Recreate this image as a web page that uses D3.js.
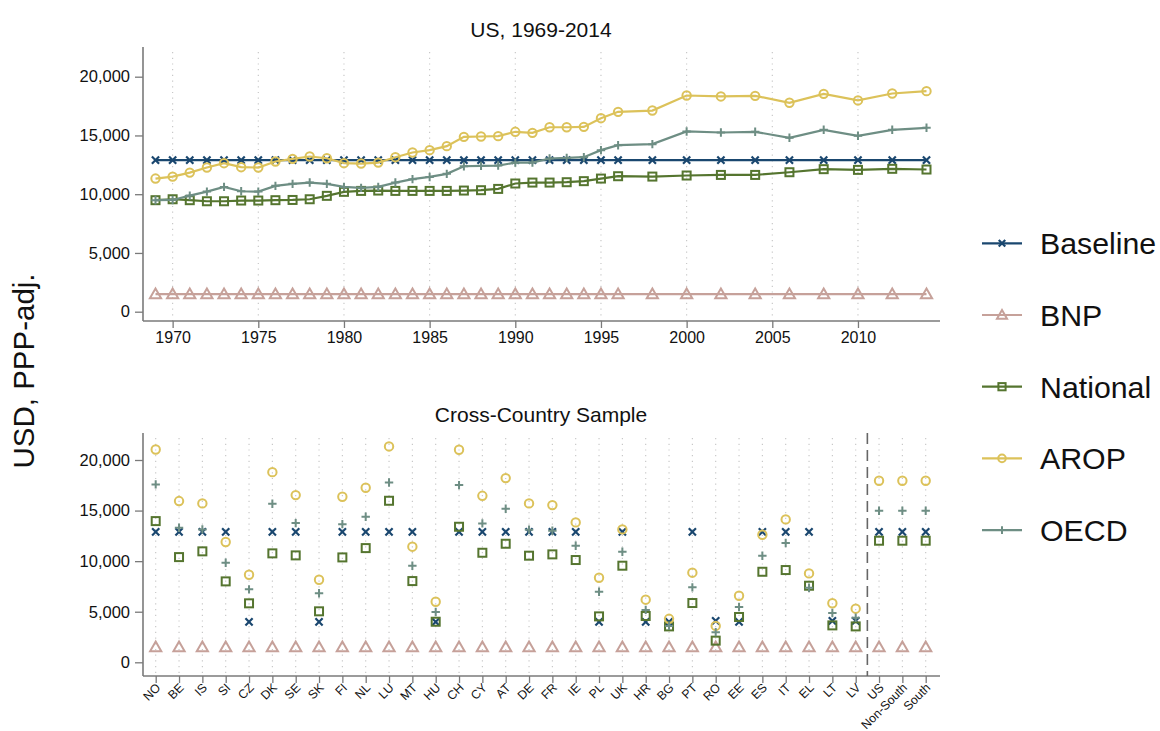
<!DOCTYPE html>
<html><head><meta charset="utf-8">
<script src="https://cdn.jsdelivr.net/npm/d3@7"></script>
<style>
body{margin:0;background:#fff;}
svg{display:block;font-family:"Liberation Sans",Arial,sans-serif;}
</style></head>
<body><svg id="c" width="1160" height="731"></svg>
<script>
// ---------- DATA ----------
const years = [1969,1970,1971,1972,1973,1974,1975,1976,1977,1978,1979,1980,1981,1982,1983,1984,1985,1986,1987,1988,1989,1990,1991,1992,1993,1994,1995,1996,1998,2000,2002,2004,2006,2008,2010,2012,2014];
const usBaseline = [12900,12900,12900,12900,12900,12900,12900,12900,12900,12900,12900,12900,12900,12900,12900,12900,12900,12900,12900,12900,12900,12900,12900,12900,12900,12900,12900,12900,12900,12900,12900,12900,12900,12900,12900,12900,12900];
const usBNP = [1500,1500,1500,1500,1500,1500,1500,1500,1500,1500,1500,1500,1500,1500,1500,1500,1500,1500,1500,1500,1500,1500,1500,1500,1500,1500,1500,1500,1500,1500,1500,1500,1500,1500,1500,1500,1500];
const usNational = [9490,9570,9490,9400,9400,9460,9460,9490,9510,9570,9860,10200,10280,10310,10280,10280,10280,10280,10310,10340,10450,10910,10990,10990,11020,11110,11330,11530,11500,11590,11640,11640,11870,12130,12070,12160,12100];
const usAROP = [11330,11500,11840,12270,12640,12300,12270,12780,13010,13210,13060,12640,12610,12690,13150,13550,13750,14090,14880,14910,14940,15310,15220,15700,15700,15730,16470,17010,17120,18400,18320,18370,17780,18540,17980,18570,18770];
const usOECD = [9490,9510,9880,10220,10620,10250,10220,10710,10880,10990,10880,10620,10540,10620,10990,11280,11470,11730,12380,12410,12440,12690,12690,13040,13090,13150,13750,14170,14260,15340,15250,15310,14800,15480,14970,15480,15650];
const topTicksX = [1970,1975,1980,1985,1990,1995,2000,2005,2010];
const ticksY = [0,5000,10000,15000,20000];

const countries = ["NO","BE","IS","SI","CZ","DK","SE","SK","FI","NL","LU","MT","HU","CH","CY","AT","DE","FR","IE","PL","UK","HR","BG","PT","RO","EE","ES","IT","EL","LT","LV","US","Non-South","South"];
const cBaseline = [12900,12900,12900,12900,4000,12900,12900,4000,12900,12900,12900,12900,4000,12900,12900,12900,12900,12900,12900,4000,12900,4000,4000,12900,4100,4000,12900,12900,12900,4100,4100,12900,12900,12900];
const cBNP = [1500,1500,1500,1500,1500,1500,1500,1500,1500,1500,1500,1500,1500,1500,1500,1500,1500,1500,1500,1500,1500,1500,1500,1500,1500,1500,1500,1500,1500,1500,1500,1500,1500,1500];
const cNational = [13960,10400,10970,8000,5830,10770,10570,5040,10370,11290,15970,8030,4010,13400,10830,11720,10540,10670,10110,4540,9550,4580,3550,5860,2140,4480,8950,9120,7570,3650,3550,12020,12020,12020];
const cAROP = [21040,15940,15710,11890,8660,18800,16530,8160,16370,17260,21340,11430,5990,21010,16460,18210,15710,15540,13830,8360,13140,6190,4300,8860,3600,6580,12610,14130,8790,5840,5300,17950,17950,17950];
const cOECD = [17590,13300,13140,9840,7210,15670,13760,6820,13660,14390,17780,9550,4970,17520,13730,15180,13100,13000,11520,6980,10930,5180,3600,7410,2980,5460,10540,11790,7370,4870,4410,14980,14980,14980];

const seriesNames = ["Baseline","BNP","National","AROP","OECD"];
const seriesColors = ["#1a476f","#c6a19a","#55752f","#dcc25a","#6e8e84"];
const seriesShapes = ["x","triangle","square","circle","plus"];

// ---------- DRAW ----------
const svg = d3.select("#c");
const axisColor = "#7a7a7a";
const gridColor = "#c4c4c4";

function marker(g, shape, x, y, color, s) {
  s = s || 1;
  if (shape === "x") {
    const r = 3.6*s;
    g.append("path").attr("d",`M${x-r},${y-r}L${x+r},${y+r}M${x-r},${y+r}L${x+r},${y-r}`)
      .attr("stroke",color).attr("stroke-width",2.2).attr("fill","none");
  } else if (shape === "plus") {
    const r = 4.2*s;
    g.append("path").attr("d",`M${x-r},${y}L${x+r},${y}M${x},${y-r}L${x},${y+r}`)
      .attr("stroke",color).attr("stroke-width",2).attr("fill","none");
  } else if (shape === "square") {
    const r = 4*s;
    g.append("rect").attr("x",x-r).attr("y",y-r).attr("width",2*r).attr("height",2*r)
      .attr("stroke",color).attr("stroke-width",2).attr("fill","none");
  } else if (shape === "circle") {
    g.append("circle").attr("cx",x).attr("cy",y).attr("r",4.2*s)
      .attr("stroke",color).attr("stroke-width",2).attr("fill","none");
  } else if (shape === "triangle") {
    const r = 5.6*s;
    g.append("path").attr("d",`M${x},${y-r}L${x+r},${y+r*0.75}L${x-r},${y+r*0.75}Z`)
      .attr("stroke",color).attr("stroke-width",2).attr("fill","none").attr("stroke-linejoin","miter");
  }
}

function yAxis(yScale, x0) {
  const g = svg.append("g").attr("transform",`translate(${x0},0)`)
    .call(d3.axisLeft(yScale).tickValues(ticksY).tickFormat(d3.format(",")).tickSize(8).tickPadding(5));
  g.select(".domain").remove();
  g.selectAll(".tick line").attr("stroke",axisColor).attr("stroke-width",1.3);
  g.selectAll(".tick text").attr("font-size",16.5).attr("fill","#111").attr("font-family","Liberation Sans, Arial, sans-serif");
}

// ===== TOP PANEL =====
const L = 143, R = 940;
const topT = 47, topB = 321;
const xTop = d3.scaleLinear().domain([1969, 2014]).range([155.5, 926.5]);
const yTop = d3.scaleLinear().domain([0, 20000]).range([311.7, 76.7]);

// grid
svg.append("g").selectAll("line").data(topTicksX).join("line")
  .attr("x1",d=>xTop(d)).attr("x2",d=>xTop(d)).attr("y1",topT+5).attr("y2",topB)
  .attr("stroke",gridColor).attr("stroke-width",1.1).attr("stroke-dasharray","1.2,4.5");

// axes
svg.append("line").attr("x1",L).attr("x2",L).attr("y1",topT).attr("y2",topB).attr("stroke",axisColor).attr("stroke-width",1.6);
svg.append("line").attr("x1",L).attr("x2",R).attr("y1",topB).attr("y2",topB).attr("stroke",axisColor).attr("stroke-width",1.6);
yAxis(yTop, L);
{
  const g = svg.append("g").attr("transform",`translate(0,${topB})`)
    .call(d3.axisBottom(xTop).tickValues(topTicksX).tickFormat(d3.format("d")).tickSize(7).tickPadding(4));
  g.select(".domain").remove();
  g.selectAll(".tick line").attr("stroke",axisColor).attr("stroke-width",1.3);
  g.selectAll(".tick text").attr("font-size",16).attr("fill","#111").attr("font-family","Liberation Sans, Arial, sans-serif");
}

svg.append("text").attr("x",541).attr("y",37).attr("text-anchor","middle").attr("font-size",21).attr("fill","#111").text("US, 1969-2014");

const topSeries = [usBaseline, usBNP, usNational, usAROP, usOECD];
topSeries.forEach((vals, i) => {
  const pts = years.map((yr, j) => [xTop(yr), yTop(vals[j])]);
  svg.append("path").attr("d", d3.line()(pts)).attr("fill","none")
    .attr("stroke", seriesColors[i]).attr("stroke-width", 2.2);
  const g = svg.append("g");
  pts.forEach(p => marker(g, seriesShapes[i], p[0], p[1], seriesColors[i]));
});

// ===== BOTTOM PANEL =====
const botT = 433, botB = 676;
const xBot = d3.scalePoint().domain(countries).range([155.7, 925.7]);
const yBot = d3.scaleLinear().domain([0, 20000]).range([662.3, 460]);

svg.append("g").selectAll("line").data(countries).join("line")
  .attr("x1",d=>xBot(d)).attr("x2",d=>xBot(d)).attr("y1",botT+5).attr("y2",botB)
  .attr("stroke",gridColor).attr("stroke-width",1.1).attr("stroke-dasharray","1.2,4.5");

svg.append("line").attr("x1",L).attr("x2",L).attr("y1",botT).attr("y2",botB).attr("stroke",axisColor).attr("stroke-width",1.6);
svg.append("line").attr("x1",L).attr("x2",R).attr("y1",botB).attr("y2",botB).attr("stroke",axisColor).attr("stroke-width",1.6);
yAxis(yBot, L);
{
  const g = svg.append("g").attr("transform",`translate(0,${botB})`)
    .call(d3.axisBottom(xBot).tickSize(7).tickPadding(4));
  g.select(".domain").remove();
  g.selectAll(".tick line").attr("stroke",axisColor).attr("stroke-width",1.3);
  g.selectAll(".tick text").attr("font-size",12.3).attr("fill","#111")
    .attr("font-family","Liberation Sans, Arial, sans-serif")
    .attr("text-anchor","end").attr("dy",null).attr("y",0)
    .attr("transform","translate(5,12.5) rotate(-45)");
}
// dashed separator
const sepX = (xBot("LV") + xBot("US")) / 2;
svg.append("line").attr("x1",sepX).attr("x2",sepX).attr("y1",botT).attr("y2",botB)
  .attr("stroke","#666").attr("stroke-width",1.6).attr("stroke-dasharray","11,6");

svg.append("text").attr("x",541).attr("y",422).attr("text-anchor","middle").attr("font-size",21).attr("fill","#111").text("Cross-Country Sample");

const botSeries = [cBaseline, cBNP, cNational, cAROP, cOECD];
botSeries.forEach((vals, i) => {
  const g = svg.append("g");
  countries.forEach((c, j) => marker(g, seriesShapes[i], xBot(c), yBot(vals[j]), seriesColors[i]));
});

// y title
svg.append("text").attr("transform","translate(34,371) rotate(-90)").attr("text-anchor","middle")
  .attr("font-size",29.5).attr("fill","#111").text("USD, PPP-adj.");

// legend
const lg = svg.append("g");
seriesNames.forEach((n, i) => {
  const y = 243.3 + i*71.7;
  lg.append("line").attr("x1",982).attr("x2",1022).attr("y1",y).attr("y2",y)
    .attr("stroke",seriesColors[i]).attr("stroke-width",2.2);
  marker(lg, seriesShapes[i], 1002, y, seriesColors[i], 0.9);
  lg.append("text").attr("x",1040).attr("y",y).attr("dy","0.36em").attr("font-size",30.3).attr("fill","#111").text(n);
});
</script></body></html>
